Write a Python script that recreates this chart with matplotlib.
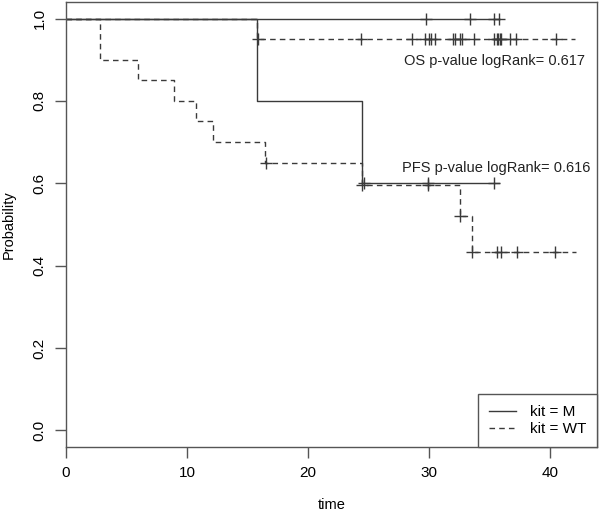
import matplotlib
matplotlib.use("Agg")
import matplotlib.pyplot as plt
from matplotlib.lines import Line2D

plt.rcParams['font.family'] = ['Liberation Sans', 'DejaVu Sans']

# OS, kit = M
os_m_time = [0, 35.8]
os_m_surv = [1.0, 1.0]
os_m_cens = [29.8, 33.4, 35.4, 35.8]

# OS, kit = WT
os_wt_time = [0, 15.8, 42.1]
os_wt_surv = [1.0, 0.95, 0.95]
os_wt_cens = [15.9, 24.4, 28.6, 29.7, 30.0, 30.2, 30.5, 32.0, 32.2, 32.6, 32.7,
              33.7, 35.4, 35.6, 35.7, 35.9, 36.0, 36.7, 37.2, 40.5]

# PFS, kit = M
pfs_m_time = [0, 15.75, 24.5, 35.8]
pfs_m_surv = [1.0, 0.8, 0.6, 0.6]
pfs_m_cens = [24.6, 29.9, 35.4]
pfs_m_cens_surv = [0.6, 0.6, 0.6]

# PFS, kit = WT
pfs_wt_time = [0, 2.83, 5.98, 8.93, 10.74, 12.12, 16.45, 24.45, 32.6, 33.6, 42.2]
pfs_wt_surv = [1.0, 0.9, 0.85, 0.8, 0.75, 0.7, 0.65, 0.596, 0.521, 0.434, 0.434]
pfs_wt_cens = [16.5, 24.5, 29.9, 32.6, 33.6, 35.6, 36.0, 37.3, 40.4]
pfs_wt_cens_surv = [0.65, 0.596, 0.596, 0.521, 0.434, 0.434, 0.434, 0.434, 0.434]

line_col = "#3a3a3a"
dash = (0, (4, 3))

fig = plt.figure(figsize=(6.0, 5.13), dpi=100)
ax = fig.add_axes([0.11, 0.129, 0.885, 0.867])

def km(t, s, ls):
    ax.step(t, s, where="post", color=line_col, lw=1, linestyle=ls)

km(os_m_time, os_m_surv, "-")
km(os_wt_time, os_wt_surv, dash)
km(pfs_m_time, pfs_m_surv, "-")
km(pfs_wt_time, pfs_wt_surv, dash)

mk = dict(marker="+", color=line_col, markersize=9, markeredgewidth=1, linestyle="none")
ax.plot(os_m_cens, [1.0] * len(os_m_cens), **mk)
ax.plot(os_wt_cens, [0.95] * len(os_wt_cens), **mk)
ax.plot(pfs_m_cens, pfs_m_cens_surv, **mk)
ax.plot(pfs_wt_cens, pfs_wt_cens_surv, **mk)

ax.text(35.4, 0.896, "OS p-value logRank= 0.617", ha="center", va="center", fontsize=10.5, color="#222222")
ax.text(35.6, 0.638, "PFS p-value logRank= 0.616", ha="center", va="center", fontsize=10.5, color="#222222")

ax.set_xlim(0, 43.9)
ax.set_ylim(-0.04, 1.04)
ax.set_xticks([0, 10, 20, 30, 40])
ax.set_yticks([0.0, 0.2, 0.4, 0.6, 0.8, 1.0])
ax.set_yticklabels(["0.0", "0.2", "0.4", "0.6", "0.8", "1.0"], rotation=90, va="center")
ax.tick_params(direction="out", length=8, width=1, color="#555555", labelsize=11, pad=6)
for sp in ax.spines.values():
    sp.set_color("#555555")
    sp.set_linewidth(1)
ax.set_xlabel("time", fontsize=10.5, labelpad=13)
ax.set_ylabel("Probability", fontsize=10.5, labelpad=12)

handles = [Line2D([], [], color=line_col, lw=1, linestyle="-"),
           Line2D([], [], color=line_col, lw=1, linestyle=dash)]
leg = ax.legend(handles, ["kit = M", "kit = WT"], loc="lower right", borderaxespad=0,
                fancybox=False, framealpha=1, edgecolor="#555555", fontsize=11,
                handlelength=1.8, borderpad=0.7, labelspacing=0.2, handletextpad=0.9)
leg.get_frame().set_linewidth(1)

fig.savefig("out.png", dpi=100)
